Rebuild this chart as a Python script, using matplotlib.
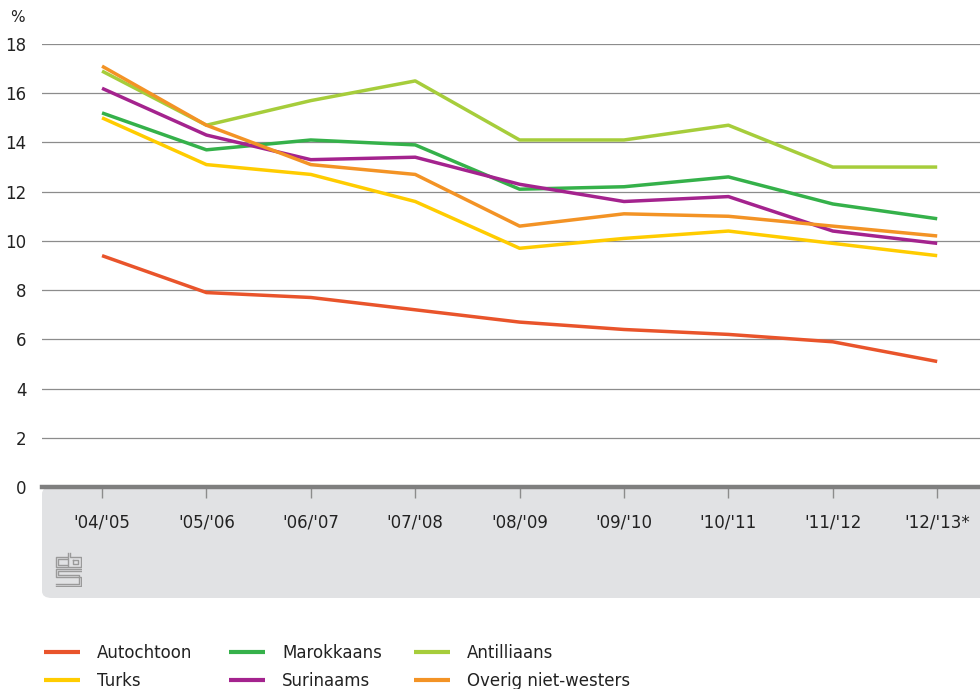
import numpy as np
import matplotlib
matplotlib.use('Agg')
import matplotlib.pyplot as plt
from matplotlib.patches import FancyBboxPatch

# schooljaren
jaren = ["'04/'05", "'05/'06", "'06/'07", "'07/'08", "'08/'09",
         "'09/'10", "'10/'11", "'11/'12", "'12/'13*"]

autochtoon = [9.4, 7.9, 7.7, 7.2, 6.7, 6.4, 6.2, 5.9, 5.1]
turks = [15.0, 13.1, 12.7, 11.6, 9.7, 10.1, 10.4, 9.9, 9.4]
marokkaans = [15.2, 13.7, 14.1, 13.9, 12.1, 12.2, 12.6, 11.5, 10.9]
surinaams = [16.2, 14.3, 13.3, 13.4, 12.3, 11.6, 11.8, 10.4, 9.9]
antilliaans = [16.9, 14.7, 15.7, 16.5, 14.1, 14.1, 14.7, 13.0, 13.0]
overig = [17.1, 14.7, 13.1, 12.7, 10.6, 11.1, 11.0, 10.6, 10.2]

reeksen = [
    ('Autochtoon', autochtoon, '#e9542b'),
    ('Turks', turks, '#ffcc00'),
    ('Marokkaans', marokkaans, '#35b14a'),
    ('Surinaams', surinaams, '#a4238e'),
    ('Antilliaans', antilliaans, '#a6cd3b'),
    ('Overig niet-westers', overig, '#f39325'),
]

W, H = 980, 689
fig = plt.figure(figsize=(W / 100, H / 100), dpi=100)

# grijze band onder de x-as
band = FancyBboxPatch((42 / W, (H - 598) / H), (W - 42 + 20) / W, (598 - 487) / H,
                      boxstyle='round,pad=0,rounding_size=0.01',
                      transform=fig.transFigure, facecolor='#e1e2e4',
                      edgecolor='none', zorder=-5)
fig.patches.append(band)

ax = fig.add_axes([42 / W, (H - 487) / H, (W - 42) / W, (487 - 44) / H])
ax.set_facecolor('none')
x = np.arange(len(jaren))
lijnen = []
for naam, vals, kleur in reeksen:
    l, = ax.plot(x, vals, color=kleur, lw=2.5, label=naam, solid_capstyle='butt', zorder=3)
    lijnen.append(l)

ax.set_xlim(-0.575, 8.41)
ax.set_ylim(0, 18)
ax.set_yticks(range(0, 19, 2))
for yv in range(2, 19, 2):
    ax.axhline(yv, color='#8c8c8c', lw=0.9, zorder=1)
ax.axhline(0, color='#7f7f7f', lw=3.2, zorder=4, clip_on=False)
for s in ax.spines.values():
    s.set_visible(False)

ax.set_xticks(x)
ax.set_xticklabels(jaren, fontsize=12, color='#222222')
ax.tick_params(axis='x', length=8, width=1, color='#8c8c8c', pad=11, direction='out')
ax.tick_params(axis='y', length=0, pad=11, labelsize=12, labelcolor='#222222')

fig.text(10 / W, 1 - 17 / H, '%', fontsize=11, va='center', ha='left', color='#222222')

# cbs logo (vereenvoudigd)
lax = fig.add_axes([55 / W, (H - 587) / H, 27 / W, 35 / H])
lax.set_xlim(0, 27)
lax.set_ylim(35, 0)
lax.axis('off')
g = '#9a9a9a'
logo = [
    ([12, 1, 1, 12], [5, 5, 15, 15]),
    ([12, 3, 3, 12], [7, 7, 13, 13]),
    ([13, 13, 26, 26, 15, 15], [1, 15, 15, 5, 5, 1]),
    ([18, 23, 23, 18, 18], [8, 8, 12, 12, 8]),
    ([26, 1, 1, 26, 26, 1], [17, 17, 25, 25, 34, 34]),
    ([26, 3, 3, 24, 24, 1], [19, 19, 23, 23, 32, 32]),
]
for xs, ys in logo:
    lax.plot(xs, ys, color=g, lw=1.0)

# legenda in drie kolommen
kolom_x = [37, 222, 407]
for i, kx in enumerate(kolom_x):
    leg = fig.legend(handles=lijnen[2 * i:2 * i + 2], loc='upper left',
                     bbox_to_anchor=(kx / W, 1 - 637 / H), frameon=False,
                     fontsize=12, handlelength=2.2, handletextpad=1.0,
                     labelspacing=0.6, borderaxespad=0)
    for t in leg.get_texts():
        t.set_color('#222222')
    for l in leg.get_lines():
        l.set_linewidth(3)

fig.savefig('out.png', dpi=100)
